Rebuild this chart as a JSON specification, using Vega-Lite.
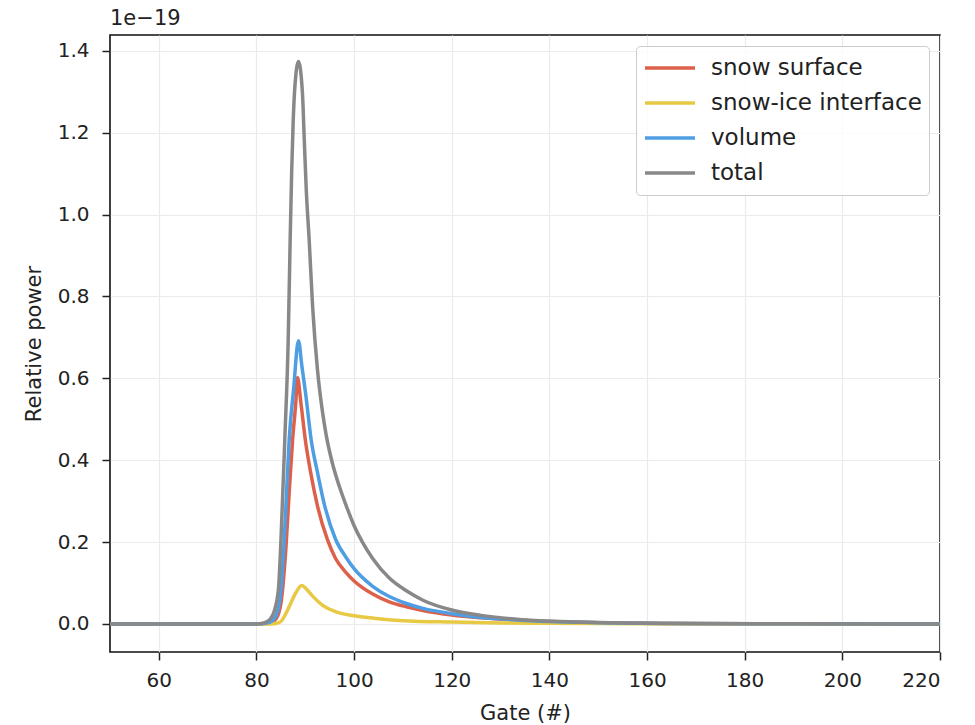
{
  "$schema": "https://vega.github.io/schema/vega-lite/v6.json",
  "autosize": "none",
  "width": 830,
  "height": 617,
  "padding": {"left": 110, "top": 35, "right": 35, "bottom": 73},
  "background": "white",
  "title": {"text": "1e−19", "anchor": "start", "frame": "group", "fontSize": 21, "fontWeight": "normal", "font": "DejaVu Sans", "color": "#222222", "offset": 6},
  "config": {
    "font": "DejaVu Sans",
    "view": {"stroke": "#111111", "strokeWidth": 1.6},
    "axis": {
      "labelFont": "DejaVu Sans", "labelFontSize": 20, "labelColor": "#222222",
      "titleFont": "DejaVu Sans", "titleFontSize": 21, "titleFontWeight": "normal", "titleColor": "#222222",
      "tickColor": "#222222", "tickSize": 8, "tickWidth": 1.5, "labelPadding": 10,
      "domain": false,
      "grid": true, "gridColor": "#ebebeb", "gridWidth": 1.2
    },
    "legend": {"labelFont": "DejaVu Sans", "labelFontSize": 23, "labelColor": "#222222"}
  },
  "data": {"values": [
    {"gate": 50, "power": 0, "series": "snow surface"},
    {"gate": 80, "power": 0, "series": "snow surface"},
    {"gate": 82, "power": 0.001, "series": "snow surface"},
    {"gate": 83, "power": 0.004, "series": "snow surface"},
    {"gate": 84, "power": 0.012, "series": "snow surface"},
    {"gate": 85, "power": 0.05, "series": "snow surface"},
    {"gate": 86, "power": 0.18, "series": "snow surface"},
    {"gate": 86.7, "power": 0.32, "series": "snow surface"},
    {"gate": 87.4, "power": 0.45, "series": "snow surface"},
    {"gate": 88.05, "power": 0.54, "series": "snow surface"},
    {"gate": 88.4, "power": 0.602, "series": "snow surface"},
    {"gate": 89.1, "power": 0.54, "series": "snow surface"},
    {"gate": 90, "power": 0.45, "series": "snow surface"},
    {"gate": 91.1, "power": 0.37, "series": "snow surface"},
    {"gate": 92.5, "power": 0.288, "series": "snow surface"},
    {"gate": 94.5, "power": 0.207, "series": "snow surface"},
    {"gate": 96.2, "power": 0.16, "series": "snow surface"},
    {"gate": 98.3, "power": 0.126, "series": "snow surface"},
    {"gate": 100, "power": 0.105, "series": "snow surface"},
    {"gate": 103.8, "power": 0.073, "series": "snow surface"},
    {"gate": 107.2, "power": 0.054, "series": "snow surface"},
    {"gate": 110.7, "power": 0.042, "series": "snow surface"},
    {"gate": 114.1, "power": 0.033, "series": "snow surface"},
    {"gate": 120, "power": 0.022, "series": "snow surface"},
    {"gate": 126, "power": 0.015, "series": "snow surface"},
    {"gate": 132, "power": 0.01, "series": "snow surface"},
    {"gate": 140, "power": 0.006, "series": "snow surface"},
    {"gate": 150, "power": 0.003, "series": "snow surface"},
    {"gate": 165, "power": 0.0012, "series": "snow surface"},
    {"gate": 185, "power": 0.0004, "series": "snow surface"},
    {"gate": 220, "power": 0, "series": "snow surface"},

    {"gate": 50, "power": 0, "series": "snow-ice interface"},
    {"gate": 83, "power": 0, "series": "snow-ice interface"},
    {"gate": 84, "power": 0.001, "series": "snow-ice interface"},
    {"gate": 85, "power": 0.006, "series": "snow-ice interface"},
    {"gate": 86, "power": 0.025, "series": "snow-ice interface"},
    {"gate": 87, "power": 0.05, "series": "snow-ice interface"},
    {"gate": 88, "power": 0.075, "series": "snow-ice interface"},
    {"gate": 89.3, "power": 0.094, "series": "snow-ice interface"},
    {"gate": 90, "power": 0.088, "series": "snow-ice interface"},
    {"gate": 91.5, "power": 0.068, "series": "snow-ice interface"},
    {"gate": 93.5, "power": 0.046, "series": "snow-ice interface"},
    {"gate": 96, "power": 0.031, "series": "snow-ice interface"},
    {"gate": 100, "power": 0.02, "series": "snow-ice interface"},
    {"gate": 104, "power": 0.014, "series": "snow-ice interface"},
    {"gate": 110, "power": 0.008, "series": "snow-ice interface"},
    {"gate": 120, "power": 0.0045, "series": "snow-ice interface"},
    {"gate": 130, "power": 0.0025, "series": "snow-ice interface"},
    {"gate": 140, "power": 0.0015, "series": "snow-ice interface"},
    {"gate": 160, "power": 0.0005, "series": "snow-ice interface"},
    {"gate": 185, "power": 0.0001, "series": "snow-ice interface"},
    {"gate": 220, "power": 0, "series": "snow-ice interface"},

    {"gate": 50, "power": 0, "series": "volume"},
    {"gate": 80, "power": 0, "series": "volume"},
    {"gate": 82, "power": 0.002, "series": "volume"},
    {"gate": 83, "power": 0.006, "series": "volume"},
    {"gate": 84, "power": 0.02, "series": "volume"},
    {"gate": 84.6, "power": 0.045, "series": "volume"},
    {"gate": 85, "power": 0.08, "series": "volume"},
    {"gate": 85.7, "power": 0.207, "series": "volume"},
    {"gate": 86.2, "power": 0.33, "series": "volume"},
    {"gate": 86.7, "power": 0.45, "series": "volume"},
    {"gate": 87.6, "power": 0.572, "series": "volume"},
    {"gate": 88.6, "power": 0.692, "series": "volume"},
    {"gate": 89.3, "power": 0.63, "series": "volume"},
    {"gate": 90.1, "power": 0.56, "series": "volume"},
    {"gate": 91.2, "power": 0.45, "series": "volume"},
    {"gate": 92.5, "power": 0.37, "series": "volume"},
    {"gate": 93.9, "power": 0.292, "series": "volume"},
    {"gate": 96.2, "power": 0.207, "series": "volume"},
    {"gate": 98.5, "power": 0.16, "series": "volume"},
    {"gate": 100, "power": 0.135, "series": "volume"},
    {"gate": 103.8, "power": 0.092, "series": "volume"},
    {"gate": 107.2, "power": 0.067, "series": "volume"},
    {"gate": 110.7, "power": 0.05, "series": "volume"},
    {"gate": 114.1, "power": 0.038, "series": "volume"},
    {"gate": 120, "power": 0.025, "series": "volume"},
    {"gate": 126, "power": 0.016, "series": "volume"},
    {"gate": 132, "power": 0.011, "series": "volume"},
    {"gate": 140, "power": 0.006, "series": "volume"},
    {"gate": 150, "power": 0.003, "series": "volume"},
    {"gate": 165, "power": 0.0012, "series": "volume"},
    {"gate": 185, "power": 0.0004, "series": "volume"},
    {"gate": 220, "power": 0, "series": "volume"},

    {"gate": 50, "power": 0, "series": "total"},
    {"gate": 80, "power": 0, "series": "total"},
    {"gate": 81, "power": 0.001, "series": "total"},
    {"gate": 82, "power": 0.005, "series": "total"},
    {"gate": 83, "power": 0.015, "series": "total"},
    {"gate": 83.6, "power": 0.03, "series": "total"},
    {"gate": 84.5, "power": 0.085, "series": "total"},
    {"gate": 85, "power": 0.2, "series": "total"},
    {"gate": 85.8, "power": 0.45, "series": "total"},
    {"gate": 86.5, "power": 0.694, "series": "total"},
    {"gate": 86.9, "power": 0.937, "series": "total"},
    {"gate": 87.2, "power": 1.1, "series": "total"},
    {"gate": 87.5, "power": 1.22, "series": "total"},
    {"gate": 87.8, "power": 1.3, "series": "total"},
    {"gate": 88.6, "power": 1.374, "series": "total"},
    {"gate": 89.4, "power": 1.3, "series": "total"},
    {"gate": 89.8, "power": 1.18, "series": "total"},
    {"gate": 90.2, "power": 1.06, "series": "total"},
    {"gate": 90.8, "power": 0.937, "series": "total"},
    {"gate": 91.5, "power": 0.775, "series": "total"},
    {"gate": 92.5, "power": 0.62, "series": "total"},
    {"gate": 93.5, "power": 0.52, "series": "total"},
    {"gate": 94.3, "power": 0.46, "series": "total"},
    {"gate": 95.5, "power": 0.395, "series": "total"},
    {"gate": 97, "power": 0.335, "series": "total"},
    {"gate": 98.5, "power": 0.285, "series": "total"},
    {"gate": 100, "power": 0.24, "series": "total"},
    {"gate": 101.7, "power": 0.2, "series": "total"},
    {"gate": 103.8, "power": 0.16, "series": "total"},
    {"gate": 107.2, "power": 0.112, "series": "total"},
    {"gate": 110.7, "power": 0.081, "series": "total"},
    {"gate": 114.1, "power": 0.058, "series": "total"},
    {"gate": 120, "power": 0.034, "series": "total"},
    {"gate": 126, "power": 0.021, "series": "total"},
    {"gate": 131.4, "power": 0.0135, "series": "total"},
    {"gate": 138, "power": 0.008, "series": "total"},
    {"gate": 145, "power": 0.005, "series": "total"},
    {"gate": 155, "power": 0.0025, "series": "total"},
    {"gate": 170, "power": 0.001, "series": "total"},
    {"gate": 190, "power": 0.0003, "series": "total"},
    {"gate": 220, "power": 0, "series": "total"}
  ]},
  "mark": {"type": "line", "strokeWidth": 3.5, "clip": true, "interpolate": "monotone"},
  "encoding": {
    "x": {"field": "gate", "type": "quantitative", "title": "Gate (#)",
      "scale": {"domain": [50, 220], "nice": false, "zero": false},
      "axis": {"values": [60, 80, 100, 120, 140, 160, 180, 200, 220], "titlePadding": 12}},
    "y": {"field": "power", "type": "quantitative", "title": "Relative power",
      "scale": {"domain": [-0.0685, 1.4385], "nice": false, "zero": false},
      "axis": {"values": [0, 0.2, 0.4, 0.6, 0.8, 1.0, 1.2, 1.4], "format": ".1f", "labelPadding": 13, "titlePadding": 13}},
    "color": {"field": "series", "type": "nominal",
      "scale": {"domain": ["snow surface", "snow-ice interface", "volume", "total"], "range": ["#dd614a", "#e8c944", "#4f9de3", "#888888"]},
      "legend": {"orient": "top-right", "offset": 11, "title": null, "symbolType": "stroke", "symbolSize": 2500, "symbolStrokeWidth": 3.5, "labelOffset": 14, "labelLimit": 500, "clipHeight": 30, "rowPadding": 5, "padding": 7, "strokeColor": "#cccccc", "fillColor": "rgba(255,255,255,0.8)", "cornerRadius": 4}},
    "detail": {"field": "series"}
  }
}
